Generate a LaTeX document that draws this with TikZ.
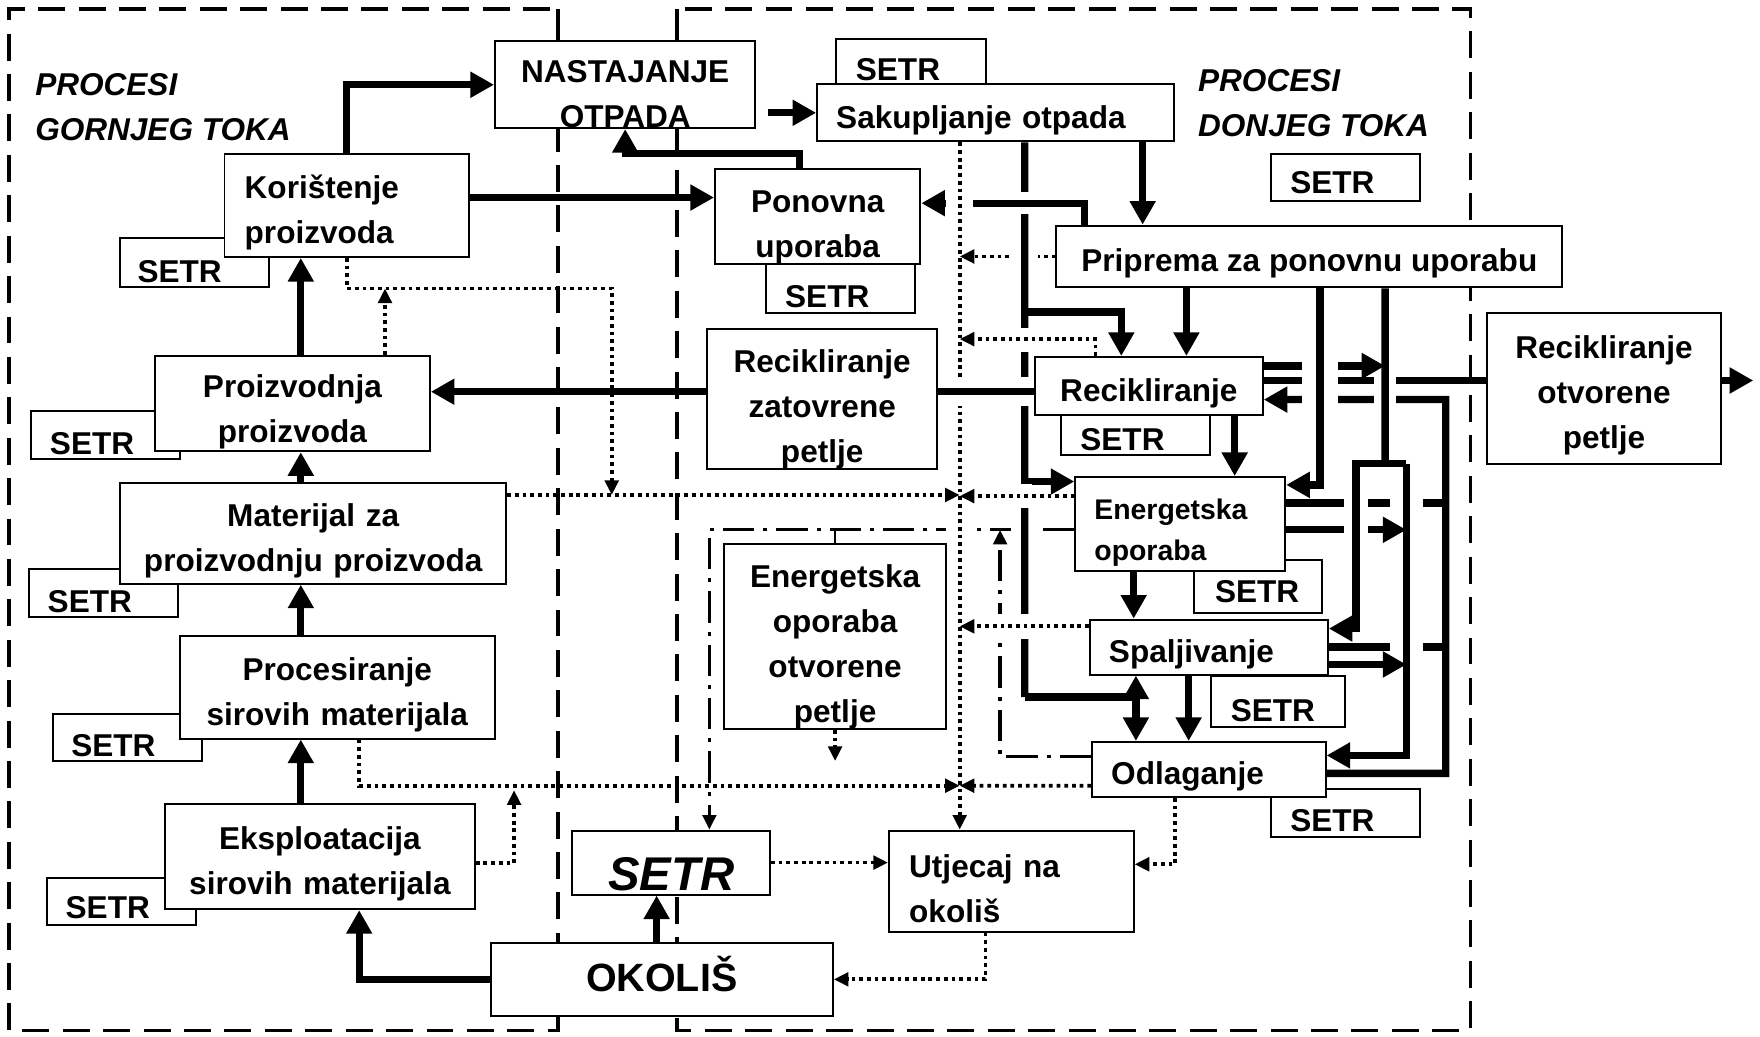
\documentclass[tikz,border=0pt]{standalone}
\usepackage{fontspec}
\setmainfont{Liberation Sans}
\usetikzlibrary{arrows.meta}

\begin{document}
\begin{tikzpicture}[x=0.1mm, y=-0.1mm,
    box/.style={draw, fill=white, line width=0.5pt, inner sep=0pt, align=center, font=\bfseries\fontsize{8}{11.4}\selectfont, execute at begin node={\rule{0pt}{9.5pt}}},
    setrbox/.style={draw, fill=white, line width=0.5pt, inner sep=0pt},
    setrlbl/.style={font=\bfseries\fontsize{8}{10}\selectfont},
    lbl/.style={font=\bfseries\itshape\fontsize{8}{11.4}\selectfont, align=left, anchor=west},
    frame/.style={line width=0.85pt, dash pattern=on 2.4mm off 1.2mm},
    flow/.style={line width=1.85pt},
    tip/.style={-{Triangle[length=2.1mm,width=2.2mm]}},
    dot/.style={line width=0.95pt, dash pattern=on 0.95pt off 1pt},
    dtip/.style={-{Triangle[length=1.3mm,width=1.2mm]}},
    dd/.style={line width=0.85pt, dash pattern=on 2.8mm off 0.8mm on 0.35mm off 0.8mm},
    link/.style={line width=0.6pt},
    hop/.style={white, line width=#1},
    hop/.default=2.2mm
  ]
  \useasboundingbox (0,0) rectangle (1568,923);

  % upstream / downstream frames
  \draw[line width=0.85pt] (497,8) -- (497,37) (603,8) -- (603,37);
  \draw[frame] (497,37) -- (497,8) -- (8,8) -- (8,918) -- (497,918) -- cycle;
  \draw[frame] (603,37) -- (603,8) -- (1310,8) -- (1310,918) -- (603,918) -- cycle;

  % SETR boxes behind the process boxes
  \node[setrbox, minimum width=13.3mm, minimum height=4mm, label={[setrlbl,xshift=-1.15mm,yshift=-0.7mm]center:SETR}] (sSak) at (811.5,55) {};
  \node[setrbox, minimum width=13.3mm, minimum height=4.4mm, label={[setrlbl,xshift=-1.35mm,yshift=-0.8mm]center:SETR}] (sKor) at (173.5,234) {};
  \node[setrbox, minimum width=13.3mm, minimum height=4.4mm, label={[setrlbl,xshift=-1.15mm,yshift=-0.7mm]center:SETR}] (sPon) at (748.5,257) {};
  \node[setrbox, minimum width=13.3mm, minimum height=4.2mm, label={[setrlbl,xshift=-1.15mm,yshift=-0.5mm]center:SETR}] (sTop) at (1198.5,158) {};
  \node[setrbox, minimum width=13.2mm, minimum height=4.3mm, label={[setrlbl,xshift=-1.2mm,yshift=-0.75mm]center:SETR}] (sProizv) at (94,387.5) {};
  \node[setrbox, minimum width=13.3mm, minimum height=3.5mm, label={[setrlbl,xshift=-1.15mm,yshift=-0.45mm]center:SETR}] (sRec) at (1011.5,387.5) {};
  \node[setrbox, minimum width=13.3mm, minimum height=4.3mm, label={[setrlbl,xshift=-1.25mm,yshift=-0.75mm]center:SETR}] (sMat) at (92.5,528.5) {};
  \node[setrbox, minimum width=11.4mm, minimum height=4.7mm, label={[setrlbl,xshift=-0.1mm,yshift=-0.45mm]center:SETR}] (sEo) at (1121,522.5) {};
  \node[setrbox, minimum width=11.9mm, minimum height=4.6mm, label={[setrlbl,xshift=-0.45mm,yshift=-0.8mm]center:SETR}] (sSp) at (1138.5,625) {};
  \node[setrbox, minimum width=13.3mm, minimum height=4.3mm, label={[setrlbl,xshift=-1.15mm,yshift=-0.65mm]center:SETR}] (sOdl) at (1198.5,724.5) {};
  \node[setrbox, minimum width=13.3mm, minimum height=4.2mm, label={[setrlbl,xshift=-1.25mm,yshift=-0.7mm]center:SETR}] (sProc) at (113.5,657) {};
  \node[setrbox, minimum width=13.3mm, minimum height=4.2mm, label={[setrlbl,xshift=-1.25mm,yshift=-0.6mm]center:SETR}] (sEks) at (108.5,803) {};

  % process boxes
  \node[box, minimum width=23.2mm, minimum height=7.7mm, text width=22mm, execute at begin node={\rule{0pt}{10.5pt}}] (nast) at (557,75.5) {NASTAJANJE\\OTPADA};
  \node[box, minimum width=31.8mm, minimum height=5.1mm, text width=28.4mm, align=left] (sak) at (887,100.5) {Sakupljanje otpada};
  \node[box, minimum width=21.8mm, minimum height=9.2mm, text width=18.2mm, align=left] (kor) at (309,183) {Korištenje\\proizvoda};
  \node[box, minimum width=18.3mm, minimum height=8.4mm, text width=17.5mm, execute at begin node={\rule{0pt}{11pt}}] (pon) at (728.5,193) {Ponovna\\uporaba};
  \node[box, minimum width=45.1mm, minimum height=5.5mm, execute at begin node={\rule{0pt}{8.5pt}}] (prip) at (1166.5,228.5) {Priprema za ponovnu uporabu};
  \node[box, minimum width=24.5mm, minimum height=8.5mm, text width=23.5mm, execute at begin node={\rule{0pt}{10pt}}] (proizv) at (260.5,359.5) {Proizvodnja\\proizvoda};
  \node[box, minimum width=20.5mm, minimum height=12.1mm, text width=19.5mm, execute at begin node={\rule{0pt}{11pt}}] (rzp) at (732.5,355.5) {Recikliranje\\zatovrene\\petlje};
  \node[box, minimum width=20.3mm, minimum height=5.2mm, execute at begin node={\rule{0pt}{8.5pt}}] (rec) at (1023.5,344) {Recikliranje};
  \node[box, minimum width=20.8mm, minimum height=13.4mm, text width=20mm, execute at begin node={\rule{0pt}{8.5pt}}] (rop) at (1429,346) {Recikliranje\\otvorene\\petlje};
  \node[box, minimum width=34.4mm, minimum height=9mm, text width=33.5mm] (mat) at (279,475) {Materijal za\\proizvodnju proizvoda};
  \node[box, minimum width=18.7mm, minimum height=8.4mm, text width=15.3mm, align=left, font=\bfseries\fontsize{7.2}{10.2}\selectfont, execute at begin node={\rule{0pt}{9pt}}] (eo) at (1051.5,467) {Energetska\\oporaba};
  \node[box, minimum width=21.2mm, minimum height=4.9mm, text width=17.8mm, align=left] (sp) at (1077,576.5) {Spaljivanje};
  \node[box, minimum width=20.8mm, minimum height=4.9mm, text width=17.4mm, align=left] (odl) at (1077,685.5) {Odlaganje};
  \node[box, minimum width=19.8mm, minimum height=16mm, text width=19mm, execute at begin node={\rule{0pt}{11pt}}] (eoo) at (744,567) {Energetska\\oporaba\\otvorene\\petlje};
  \node[box, minimum width=28.1mm, minimum height=9.1mm, text width=27.5mm, execute at begin node={\rule{0pt}{9pt}}] (proc) at (300.5,612.5) {Procesiranje\\sirovih materijala};
  \node[box, minimum width=27.6mm, minimum height=9.4mm, text width=27mm, execute at begin node={\rule{0pt}{8.5pt}}] (eks) at (285,763) {Eksploatacija\\sirovih materijala};
  \node[box, minimum width=17.6mm, minimum height=5.7mm, font=\bfseries\itshape\fontsize{12}{14}\selectfont, execute at begin node={\rule{0pt}{14.5pt}}] (setrBig) at (598,768.5) {SETR};
  \node[box, minimum width=21.8mm, minimum height=9mm, text width=18.2mm, align=left, execute at begin node={\rule{0pt}{8pt}}] (utj) at (901,785) {Utjecaj na\\okoliš};
  \node[box, minimum width=30.5mm, minimum height=6.5mm, font=\bfseries\fontsize{10}{12}\selectfont, execute at begin node={\rule[-3.4pt]{0pt}{3.4pt}}] (oko) at (589.5,872.5) {OKOLIŠ};

  \node[lbl] (gornji) at (19,95.5) {PROCESI\\GORNJEG TOKA};
  \node[lbl] (donji) at (1055,91.5) {PROCESI\\DONJEG TOKA};

  % junctions
  \coordinate (vr) at (913,278);
  \coordinate (ve) at (913,429);
  \coordinate (vb) at (913,621);
  \coordinate (sm) at (1234,413);
  \coordinate (sl) at (1208,413);
  \coordinate (sr) at (1253,413);
  \coordinate (rl) at (1288,356);
  \coordinate (outR) at (1562,339);
  \coordinate (dv) at (855,0);
  \coordinate (dk0) at (545,257);
  \coordinate (dk) at (545,441);
  \coordinate (dp) at (855,700);
  \coordinate (de) at (458,704);
  \coordinate (eooEnd) at (744,678);
  \coordinate (ddTop) at (632,472);
  \coordinate (ddUp) at (891,472);

  % lines that pass behind others
  \draw[dot,dtip] (prip.west) -- (prip.west -| dv);
  \draw[dd,dtip] (ddTop -| eo.west) -- (ddTop) -- (ddTop |- setrBig.north);
  \draw[dd,dtip] ([yshift=1.15mm]odl.west) -| (ddUp);
  \draw[link] (eoo.north) -- (eoo.north |- ddTop);
  \draw[flow,tip] ([yshift=1.8mm]rec.east) -- ([yshift=1.8mm]rec.east -| sm);
  \draw[flow] ([yshift=0.5mm]rec.east) -- ([yshift=0.5mm]rec.east -| rop.west);
  \draw[flow,tip] ([yshift=-0.35mm]odl.east) -| (rl) -- ([yshift=-1.2mm]rec.east);
  \draw[flow] ([yshift=1.9mm]eo.east) -- ([yshift=1.9mm]eo.east -| rl);
  \draw[flow,tip] ([yshift=-0.5mm]eo.east) -- ([yshift=-0.5mm]eo.east -| sr);
  \draw[flow] (sp.east) -- (sp.east -| rl);
  \draw[flow,tip] ([yshift=-1.55mm]sp.east) -- ([yshift=-1.55mm]sp.east -| sr);

  % main collection trunk
  \draw[hop=2.4mm] (913,220) -- (913,240);
  \draw[hop=2.4mm] (913,462) -- (913,482);
  \draw[flow] ([xshift=2.6mm]sak.south) -- (vb);
  \draw[flow,tip] (vr) -| ([xshift=-2.45mm]rec.north);
  \draw[flow,tip] (ve) -- (ve -| eo.west);
  \draw[flow,tip] (vb) -| ([xshift=-6.5mm]odl.north);
  \draw[flow,tip] ([xshift=-6.5mm]odl.north |- vb) -- ([xshift=-6.5mm]odl.north |- sp.south);

  \draw[hop=2mm] (905,181) -- (921,181);
  \draw[flow,tip] ([xshift=-20.05mm]prip.north) |- ([yshift=1.2mm]pon.east);

  \draw[hop=2.4mm] (855,171) -- (855,191);
  \draw[hop=2.4mm] (855,462) -- (855,482);
  \draw[dot,dtip] ([xshift=-3.2mm]sak.south) -- ([xshift=-3.2mm]sak.south |- utj.north);

  \draw[hop=2.6mm] (907,349) -- (919,349);
  \draw[hop=2.6mm] (850,349) -- (860,349);
  \draw[flow] ([yshift=-0.5mm]rec.west) -- ([yshift=-0.5mm]rec.west -| rzp.east);
  \draw[flow,tip] ([yshift=-0.5mm]rec.west -| rzp.west) -- ([yshift=-0.5mm]rec.west -| proizv.east);

  \draw[hop=2.2mm] (907,303) -- (919,303);
  \draw[dot,dtip] ([xshift=-4.75mm]rec.north) |- ([yshift=1.5mm]rec.north -| dv);
  \draw[hop=2.2mm] (907,442) -- (919,442);
  \draw[dot,dtip] ([yshift=2.5mm]eo.west) -- ([yshift=2.5mm]eo.west -| dv);
  \draw[hop=2.2mm] (907,558) -- (919,558);
  \draw[hop=2.2mm] (886,558) -- (896,558);
  \draw[dot,dtip] ([yshift=1.85mm]sp.west) -- ([yshift=1.85mm]sp.west -| dv);

  % Priprema outlets
  \draw[hop=3.2mm] (1176,318) -- (1176,364);
  \draw[hop=2mm] (1234,333) -- (1234,362);
  \draw[hop=2.2mm] (1208,442) -- (1208,478);
  \draw[hop=3mm] (1253,442) -- (1253,454);
  \draw[hop=3mm] (1253,570) -- (1253,582);
  \draw[flow,tip] ([xshift=0.95mm]prip.south) |- ([yshift=3.5mm]eo.east);
  \draw[flow] ([xshift=6.75mm]prip.south) -- (sm);
  \draw[flow,tip] (sr) -- (sl) |- ([yshift=1.65mm]sp.east);
  \draw[flow,tip] (sr) |- ([yshift=1.25mm]odl.east);
  \draw[flow,tip] ([xshift=-10.95mm]prip.south) -- ([xshift=-10.95mm]prip.south |- rec.north);
  \draw[flow,tip] (rop.east |- outR) -- (outR);

  % downstream steps
  \draw[flow,tip] ([xshift=13.1mm]sak.south) -- ([xshift=13.1mm]sak.south |- prip.north);
  \draw[flow,tip] ([xshift=7.65mm]rec.south) -- ([xshift=7.65mm]rec.south |- eo.north);
  \draw[flow,tip] ([xshift=-4.15mm]eo.south) -- ([xshift=-4.15mm]eo.south |- sp.north);
  \draw[flow,tip] ([xshift=-1.8mm]sp.south) -- ([xshift=-1.8mm]sp.south |- odl.north);

  % upstream chain
  \draw[flow,tip] (kor.north) |- (nast.west);
  \draw[flow,tip] ([yshift=0.7mm]kor.east) -- ([yshift=0.7mm]kor.east -| pon.west);
  \draw[flow,tip,shorten <=1mm] (nast.east |- sak.west) -- (sak.west);
  \draw[flow,tip] ([xshift=-1.65mm]pon.north) -- ++(0,-13) -| (nast.south);
  \draw[flow,tip] ([xshift=0.75mm]proizv.north) -- ([xshift=0.75mm]proizv.north |- kor.south);
  \draw[flow,tip] ([xshift=-1.1mm]mat.north) -- ([xshift=-1.1mm]mat.north |- proizv.south);
  \draw[flow,tip] ([xshift=-3.25mm]proc.north) -- ([xshift=-3.25mm]proc.north |- mat.south);
  \draw[flow,tip] ([xshift=-1.7mm]eks.north) -- ([xshift=-1.7mm]eks.north |- proc.south);
  \draw[flow,tip] (oko.west) -| ([xshift=3.5mm]eks.south);
  \draw[flow,tip] ([xshift=-0.45mm]oko.north) -- ([xshift=-0.45mm]oko.north |- setrBig.south);

  % impact flows
  \draw[dot,dtip] ([yshift=3.4mm]mat.east) -- ([yshift=3.4mm]mat.east -| dv);
  \draw[dot,dtip] (kor.south) |- (dk0) -- (dk);
  \draw[dot,dtip] ([xshift=8.25mm]proizv.north) -- ([xshift=8.25mm]proizv.north |- dk0);
  \draw[dot,dtip] ([xshift=1.95mm]proc.south) |- (dp);
  \draw[dot,dtip] ([yshift=-1.45mm]odl.west) -- (dp);
  \draw[dot,dtip] ([yshift=-0.6mm]eks.east) -| (de);
  \draw[dot,dtip] (setrBig.east) -- (setrBig.east -| utj.west);
  \draw[dot,dtip] ([xshift=-3mm]odl.south) |- ([yshift=1.5mm]utj.east);
  \draw[dot,dtip] ([xshift=-2.3mm]utj.south) |- (oko.east);
  \draw[dot,dtip] (eoo.south) -- (eooEnd);
\end{tikzpicture}
\end{document}
